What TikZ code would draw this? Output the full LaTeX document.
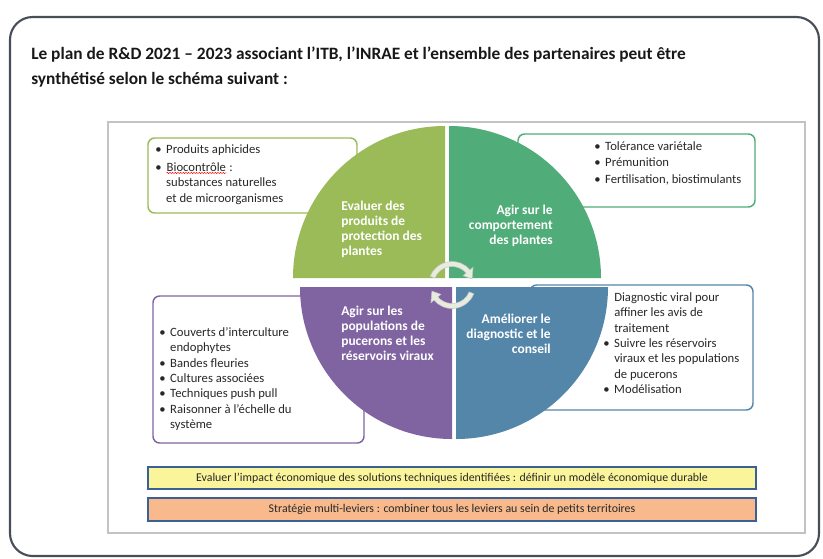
\documentclass[tikz,border=0pt]{standalone}
\usepackage{fontspec}
\setmainfont{Carlito}
\usepackage{tikz}
\usetikzlibrary{arrows.meta,positioning,calc,fit,decorations.pathmorphing}
\definecolor{cadreC}{RGB}{72,78,88}
\definecolor{grisC}{RGB}{195,195,195}
\definecolor{oliveC}{RGB}{155,187,89}
\definecolor{vertC}{RGB}{80,172,120}
\definecolor{violetC}{RGB}{128,100,162}
\definecolor{bleuC}{RGB}{84,134,170}
\definecolor{jauneC}{RGB}{250,244,155}
\definecolor{orangeC}{RGB}{248,186,140}
\definecolor{traitC}{RGB}{60,95,150}
\definecolor{texteC}{RGB}{40,40,40}
\definecolor{flecheC}{RGB}{232,236,222}
\tikzset{
  boite/.style={rectangle, rounded corners=5pt, draw=#1, line width=1.1pt, fill=white, inner sep=0pt},
  bande/.style={rectangle, draw=traitC, line width=1.1pt, fill=#1, inner sep=0pt},
  liste/.style={anchor=north west, inner sep=0pt, font=\fontsize{9.5}{11.6}\selectfont, text=texteC},
  quartier/.style={inner sep=0pt, align=#1, text=white, font=\fontsize{10.1}{11.2}\selectfont\bfseries},
  fleche/.style={fill=flecheC, draw=gray!45, line width=0.4pt},
  legende/.style={inner sep=0pt, font=\fontsize{8.9}{10}\selectfont, text=texteC},
}
\newcommand\puces[1]{\begin{tabular}{@{}l@{\hspace{3.5pt}}l@{}}#1\end{tabular}}
\newcommand\souligne[1]{\tikz[baseline=(m.base)]{\node[inner sep=0pt, text=texteC] (m) {#1};
  \draw[red, line width=0.35pt, decorate, decoration={snake, amplitude=0.45pt, segment length=2pt}]
    ([yshift=-1.3pt]m.base west) -- ([yshift=-1.3pt]m.base east);}}

\begin{document}
\begin{tikzpicture}[x=0.75pt, y=-0.75pt]
  \useasboundingbox (0,0) rectangle (823,558);
  \draw[cadreC, line width=1.6pt, rounded corners=17pt] (10,17) rectangle (819,556);
  \node[anchor=north west, inner sep=0pt, align=left, text=texteC!60!black,
        font=\fontsize{13}{18.75}\selectfont\bfseries] (titre) at (31,47)
    {Le plan de R\&D 2021 – 2023 associant l’ITB, l’INRAE et l’ensemble des partenaires peut être\\
     synthétisé selon le schéma suivant :};
  \draw[grisC, line width=0.8pt] (108,122) rectangle (805,533);

  \node[boite=oliveC, fit={(148,138) (357,213)}] (bEval) {};
  \node[boite=vertC, fit={(518,134) (755,207)}] (bAgir) {};
  \node[boite=violetC, fit={(153,296) (364,443)}] (bPuc) {};
  \node[boite=bleuC, fit={(530,285) (753,410)}] (bDiag) {};

  \node[liste] (lEval) at (155,142) {\puces{%
    \textbullet & Produits aphicides\\[2pt]
    \textbullet & \souligne{Biocontrôle} :\\
    & substances naturelles\\
    & et de microorganismes}};
  \node[liste] (lAgir) at (594,139) {\puces{%
    \textbullet & Tolérance variétale\\[1pt]
    \textbullet & Prémunition\\[1pt]
    \textbullet & Fertilisation, biostimulants}};
  \node[liste] (lPuc) at (159,325) {\puces{%
    \textbullet & Couverts d’interculture\\
    & endophytes\\
    \textbullet & Bandes fleuries\\
    \textbullet & Cultures associées\\
    \textbullet & Techniques push pull\\
    \textbullet & Raisonner à l’échelle du\\
    & système}};
  \node[liste] (lDiag) at (603,290) {\puces{%
    & Diagnostic viral pour\\
    & affiner les avis de\\
    & traitement\\
    \textbullet & Suivre les réservoirs\\
    & viraux et les populations\\
    & de pucerons\\
    \textbullet & Modélisation}};

  \coordinate (cEval) at (445,278);
  \coordinate (cAgir) at (449,278);
  \coordinate (cPuc) at (452,287);
  \coordinate (cDiag) at (456,287);
  \fill[oliveC] (cEval) -- ++(180:152) arc[start angle=180, end angle=270, radius=152] -- cycle;
  \fill[vertC] (cAgir) -- ++(270:152) arc[start angle=270, end angle=360, radius=152] -- cycle;
  \fill[bleuC] (cDiag) -- ++(0:152) arc[start angle=0, end angle=90, radius=152] -- cycle;
  \fill[violetC] (cPuc) -- ++(90:152) arc[start angle=90, end angle=180, radius=152] -- cycle;

  \node[quartier=left, anchor=north west] (qEval) at (341,201)
    {Evaluer des\\produits de\\protection des\\plantes};
  \node[quartier=right, anchor=north east] (qAgir) at (553,205)
    {Agir sur le\\comportement\\des plantes};
  \node[quartier=left, anchor=north west] (qPuc) at (341,306)
    {Agir sur les\\populations de\\pucerons et les\\réservoirs viraux};
  \node[quartier=right, anchor=north east] (qDiag) at (551,314)
    {Améliorer le\\diagnostic et le\\conseil};

  \coordinate (ctr) at (452,285);
  \filldraw[fleche] ($(ctr)+(-158:23.5)$) arc[start angle=-158, end angle=-40, radius=23.5]
    -- ($(ctr)+(-40:27.5)$) -- ($(ctr)+(-17:21)$) -- ($(ctr)+(-40:14.5)$)
    -- ($(ctr)+(-40:18.5)$) arc[start angle=-40, end angle=-158, radius=18.5] -- cycle;
  \filldraw[fleche] ($(ctr)+(22:23.5)$) arc[start angle=22, end angle=140, radius=23.5]
    -- ($(ctr)+(140:27.5)$) -- ($(ctr)+(163:21)$) -- ($(ctr)+(140:14.5)$)
    -- ($(ctr)+(140:18.5)$) arc[start angle=140, end angle=22, radius=18.5] -- cycle;

  \node[bande=jauneC, fit={(148,467) (756,489)}] (barEco) {};
  \node[legende] (tEco) at (barEco.center)
    {Evaluer l’impact économique des solutions techniques identifiées : définir un modèle économique durable};
  \node[bande=orangeC, fit={(148,498) (756,521)}] (barStrat) {};
  \node[legende] (tStrat) at (barStrat.center)
    {Stratégie multi-leviers : combiner tous les leviers au sein de petits territoires};
\end{tikzpicture}
\end{document}
